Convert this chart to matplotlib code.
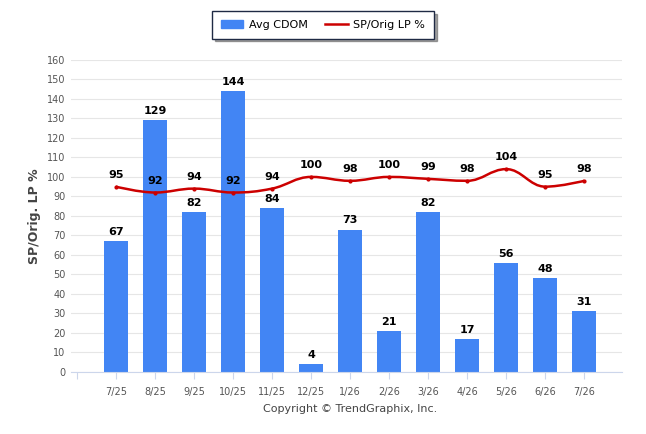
import matplotlib.pyplot as plt
from matplotlib.path import Path
from matplotlib.patches import PathPatch
from matplotlib.lines import Line2D
import numpy as np

months = ['7/25', '8/25', '9/25', '10/25', '11/25', '12/25', '1/26',
          '2/26', '3/26', '4/26', '5/26', '6/26', '7/26']
avg_cdom = [67, 129, 82, 144, 84, 4, 73, 21, 82, 17, 56, 48, 31]
sp_orig = [95, 92, 94, 92, 94, 100, 98, 100, 99, 98, 104, 95, 98]

BAR = '#4285f4'
RED = '#cc0000'


def spline_path(xs, ys, smoothing=1.5):
    # highcharts-like spline: bezier control points around each point
    verts = [(xs[0], ys[0])]
    codes = [Path.MOVETO]
    n = len(xs)
    ctrl = []
    for i in range(n):
        if i == 0 or i == n - 1:
            ctrl.append(((xs[i], ys[i]), (xs[i], ys[i])))
            continue
        d = smoothing + 1
        lx = (smoothing * xs[i] + xs[i - 1]) / d
        ly = (smoothing * ys[i] + ys[i - 1]) / d
        rx = (smoothing * xs[i] + xs[i + 1]) / d
        ry = (smoothing * ys[i] + ys[i + 1]) / d
        if rx != lx:
            corr = (ry - ly) * (rx - xs[i]) / (rx - lx) + ys[i] - ry
            ly += corr
            ry += corr
        if ly > max(ys[i - 1], ys[i]) or ly < min(ys[i - 1], ys[i]):
            ly = max(min(ly, max(ys[i - 1], ys[i])), min(ys[i - 1], ys[i]))
            ry = 2 * ys[i] - ly
        if ry > max(ys[i + 1], ys[i]) or ry < min(ys[i + 1], ys[i]):
            ry = max(min(ry, max(ys[i + 1], ys[i])), min(ys[i + 1], ys[i]))
            ly = 2 * ys[i] - ry
        ctrl.append(((lx, ly), (rx, ry)))
    for i in range(1, n):
        verts += [ctrl[i - 1][1], ctrl[i][0], (xs[i], ys[i])]
        codes += [Path.CURVE4] * 3
    return Path(verts, codes)


fig = plt.figure(figsize=(6.46, 4.34), dpi=100)
ax = fig.add_axes([0.110, 0.143, 0.853, 0.719])

x = np.arange(len(months))
ax.bar(x, avg_cdom, width=0.62, color=BAR, zorder=2)

for xi, v in zip(x, avg_cdom):
    ax.annotate(str(v), (xi, v), xytext=(0, 3), textcoords='offset points',
                ha='center', va='bottom', fontsize=8, fontweight='bold',
                color='black', zorder=5)

ax.add_patch(PathPatch(spline_path(list(x), sp_orig), fill=False,
                       edgecolor=RED, lw=1.8, zorder=3))
ax.plot(x, sp_orig, 'o', color=RED, ms=2, zorder=3)
for xi, v in zip(x, sp_orig):
    ax.annotate(str(v), (xi, v), xytext=(0, 5), textcoords='offset points',
                ha='center', va='bottom', fontsize=8, fontweight='bold',
                color='black', zorder=5)

ax.set_xlim(-1.15, 12.97)
ax.set_ylim(0, 160)
ax.set_yticks(range(0, 161, 10))
ax.set_xticks(list(x) + [-1])
ax.set_xticklabels(months + [''])
ax.tick_params(axis='y', length=0, labelsize=7, colors='#555555', pad=4)
ax.tick_params(axis='x', length=5, color='#ccd6eb', labelsize=7,
               labelcolor='#555555', pad=6)
ax.grid(axis='y', color='#e6e6e6', lw=0.8, zorder=0)
ax.set_axisbelow(True)
for s in ['top', 'right', 'left']:
    ax.spines[s].set_visible(False)
ax.spines['bottom'].set_color('#ccd6eb')
ax.set_ylabel('SP/Orig. LP %', fontsize=9, fontweight='bold', color='#444444',
              labelpad=4)

handles = [plt.Rectangle((0, 0), 1, 1, color=BAR),
           Line2D([0], [0], color=RED, lw=1.8)]
leg = fig.legend(handles, ['Avg CDOM', 'SP/Orig LP %'], loc='center',
                 bbox_to_anchor=(0.5, 0.943), ncol=2, fontsize=8,
                 frameon=True, fancybox=False, shadow=True,
                 handlelength=2.0, handleheight=0.8, columnspacing=1.6,
                 handletextpad=0.5, borderpad=0.8)
leg.get_frame().set_edgecolor('#1f2a44')
leg.get_frame().set_linewidth(1.0)

fig.text(0.542, 0.057, 'Copyright \u00a9 TrendGraphix, Inc.', ha='center',
         va='center', fontsize=8, color='#444444')

fig.savefig('out.png', dpi=100)
